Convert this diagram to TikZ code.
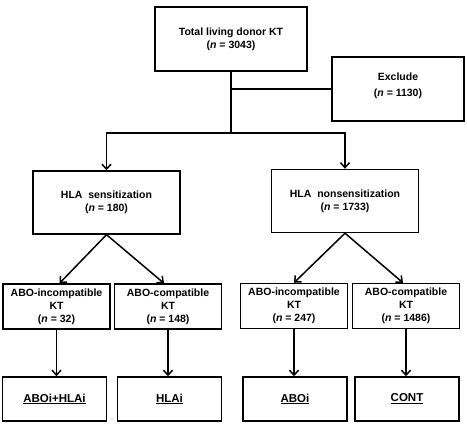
\documentclass[tikz,border=0pt]{standalone}
\usepackage{fontspec}
\setmainfont{Liberation Sans}
\usetikzlibrary{arrows.meta,positioning}

\begin{document}
\begin{tikzpicture}[x=1pt, y=1pt, >={Straight Barb[length=5pt,width=9pt]}, line width=1.5pt,
    block/.style={rectangle, draw, line width=1.4pt, align=center, inner sep=0pt, font=\fontsize{10.5}{13}\selectfont\bfseries},
    topbox/.style={block, minimum width=152pt, minimum height=64pt},
    grpbox/.style={block, minimum width=147pt, minimum height=63pt},
    subbox/.style={block, minimum width=107pt, minimum height=45pt},
    endbox/.style={block, minimum width=104pt, minimum height=44pt, font=\fontsize{11.5}{13}\selectfont\bfseries},
    line/.style={draw, ->}]

    \useasboundingbox (0,0) rectangle (467,426);

    \node [topbox] (total) at (231,387) {Total living donor KT \\ (\textit{n} = 3043)};
    \node [block, minimum width=132pt, minimum height=64pt, font=\fontsize{10.5}{16}\selectfont\bfseries] (excl) at (398,337) {Exclude \\ (\textit{n} = 1130)\\[-8pt]\mbox{}};
    \node [grpbox] (sens) at (106.5,223.5) {HLA\ \ sensitization \\ (\textit{n} = 180)};
    \node [grpbox] (nons) at (345,225) {HLA\ \ nonsensitization \\ (\textit{n} = 1733)};

    \node [subbox] (aboi1) at (56.5,119.5) {ABO-incompatible \\ KT \\ (\textit{n} = 32)};
    \node [subbox] (aboc1) at (168,119.5) {ABO-compatible \\ KT \\ (\textit{n} = 148)};
    \node [subbox] (aboi2) at (294,120) {ABO-incompatible \\ KT \\ (\textit{n} = 247)};
    \node [subbox] (aboc2) at (406,120) {ABO-compatible \\ KT \\ (\textit{n} = 1486)};

    \node [endbox] (both) at (54.5,27) {\underline{ABOi+HLAi}};
    \node [endbox] (hlai) at (169.5,27) {\underline{HLAi}};
    \node [endbox] (aboi) at (295,27) {\underline{ABOi}};
    \node [endbox] (cont) at (407,27) {\underline{CONT}};

    \coordinate (split) at (231,293);

    \draw (total) -- (split);
    \draw (total.south |- excl.west) -- (excl.west);
    \path [line] (split) -| (sens.north);
    \path [line] (split) -| (nons.north);

    \path [line] (sens.south) -- ([xshift=3pt]aboi1.north);
    \path [line] (sens.south) -- ([xshift=-4pt]aboc1.north);
    \path [line] (nons.south) -- (aboi2.north);
    \path [line] (nons.south) -- ([xshift=-3pt]aboc2.north);

    \path [line] (aboi1.south) -- (aboi1.south |- both.north);
    \path [line] (aboc1.south) -- (aboc1.south |- hlai.north);
    \path [line] (aboi2.south) -- (aboi2.south |- aboi.north);
    \path [line] (aboc2.south) -- (aboc2.south |- cont.north);

\end{tikzpicture}
\end{document}
